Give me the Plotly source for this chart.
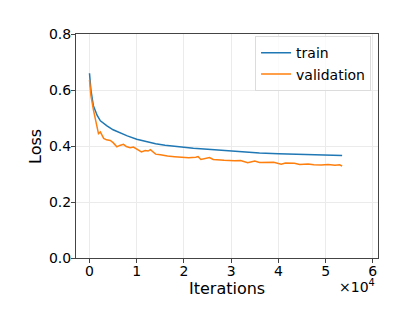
import plotly.graph_objects as go

train_x = [0, 300, 800, 1600, 2300, 3000, 3700, 5000, 6500, 8000, 10000, 12000, 14000, 16000, 18000, 20000,
           22000, 25000, 28000, 30000, 33000, 36000, 40000, 43000, 46000, 49000, 51000, 53500]
train_y = [0.660, 0.600, 0.545, 0.510, 0.490, 0.480, 0.472, 0.458, 0.446, 0.436, 0.424, 0.416, 0.408, 0.403,
           0.399, 0.396, 0.392, 0.388, 0.384, 0.381, 0.378, 0.375, 0.372, 0.371, 0.369, 0.367, 0.366, 0.366]

val_x = [0, 300, 850, 1300, 1900, 2300, 2700, 3000, 3600, 4400, 5000, 5800, 6400, 7200, 7800, 8600, 9300,
         10000, 10600, 11000, 11800, 12400, 12900, 13400, 14000, 15000, 16500, 18000, 19000, 20000, 21000,
         22500, 23000, 23600, 24500, 25400, 26200, 27200, 28500, 30700, 32000, 33500, 35000, 36000, 37800,
         39000, 40600, 41500, 43400, 44500, 46300, 47500, 49100, 50500, 52000, 53000, 53500]
val_y = [0.636, 0.580, 0.527, 0.490, 0.444, 0.450, 0.437, 0.427, 0.422, 0.420, 0.412, 0.397, 0.402, 0.406,
         0.398, 0.394, 0.396, 0.389, 0.386, 0.379, 0.384, 0.382, 0.387, 0.378, 0.371, 0.369, 0.364, 0.362,
         0.361, 0.359, 0.358, 0.360, 0.362, 0.352, 0.355, 0.359, 0.352, 0.350, 0.349, 0.347, 0.348, 0.340,
         0.346, 0.341, 0.340, 0.342, 0.335, 0.339, 0.338, 0.334, 0.336, 0.333, 0.332, 0.334, 0.331, 0.333, 0.328]

x_tick_vals = [0, 10000, 20000, 30000, 40000, 50000, 60000]
x_tick_text = ["0", "1", "2", "3", "4", "5", "6"]
y_tick_vals = [0.0, 0.2, 0.4, 0.6, 0.8]
y_tick_text = ["0.0", "0.2", "0.4", "0.6", "0.8"]

FONT = "DejaVu Sans"

fig = go.Figure()
fig.add_trace(go.Scatter(x=train_x, y=train_y, mode="lines", name="train",
                         line=dict(color="#1f77b4", width=1.5)))
fig.add_trace(go.Scatter(x=val_x, y=val_y, mode="lines", name="validation",
                         line=dict(color="#ff7f0e", width=1.5)))

axis_common = dict(showline=True, linecolor="#444", linewidth=1, mirror=True,
                   ticks="outside", ticklen=4, tickcolor="#444",
                   showgrid=True, gridcolor="#ebebeb", gridwidth=1, zeroline=False,
                   tickfont=dict(family=FONT, size=14, color="black"))

fig.update_layout(
    width=399, height=318,
    margin=dict(l=68, r=29, t=26, b=68),
    paper_bgcolor="white", plot_bgcolor="white",
    font=dict(family=FONT, color="black"),
    xaxis=dict(range=[-2860, 61100], tickvals=x_tick_vals, ticktext=x_tick_text,
               ticklabelstandoff=-4, **axis_common),
    yaxis=dict(range=[0, 0.8], tickvals=y_tick_vals, ticktext=y_tick_text,
               ticklabelstandoff=-3, **axis_common),
    legend=dict(x=0.977, y=0.99, xanchor="right", yanchor="top",
                bgcolor="rgba(255,255,255,0.8)", bordercolor="#dcdcdc", borderwidth=1,
                font=dict(family=FONT, size=14, color="black"),
                tracegroupgap=0, itemwidth=30),
    showlegend=True,
    annotations=[
        dict(text="Iterations", xref="paper", yref="paper", x=0.5, y=-0.134,
             xanchor="center", yanchor="middle", showarrow=False,
             font=dict(family=FONT, size=16, color="black")),
        dict(text="Loss", xref="paper", yref="paper", x=-0.136, y=0.5,
             xanchor="center", yanchor="middle", showarrow=False, textangle=-90,
             font=dict(family=FONT, size=16, color="black")),
        dict(text="×10<sup>4</sup>", xref="paper", yref="paper", x=0.997, y=-0.127,
             xanchor="right", yanchor="middle", showarrow=False,
             font=dict(family=FONT, size=14, color="black")),
    ],
)

fig.write_html("out.html")
